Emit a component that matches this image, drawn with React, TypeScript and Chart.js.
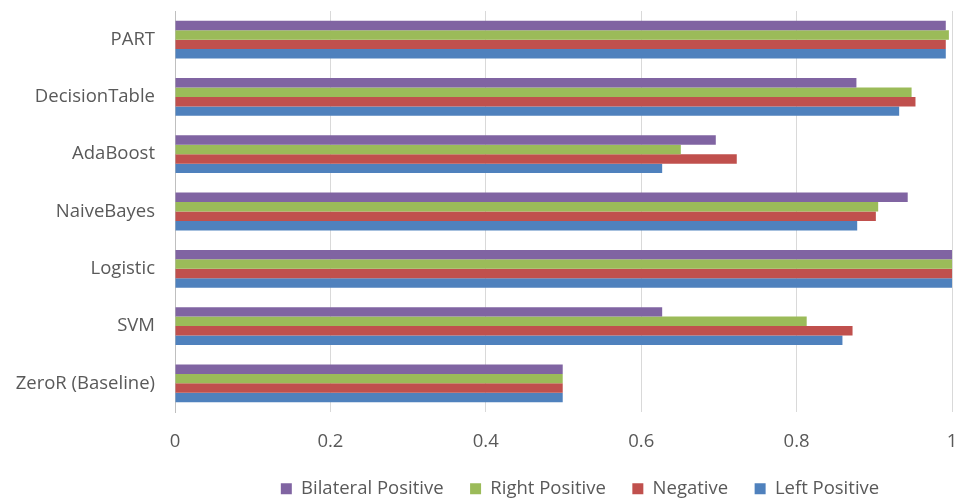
import { useEffect, useRef } from "react";
import { Chart, registerables } from "chart.js";

Chart.register(...registerables);

const categories = [
  "PART",
  "DecisionTable",
  "AdaBoost",
  "NaiveBayes",
  "Logistic",
  "SVM",
  "ZeroR (Baseline)",
];
const bilateralPositive = [0.992, 0.877, 0.696, 0.943, 1.0, 0.627, 0.499];
const rightPositive = [0.996, 0.948, 0.651, 0.905, 1.0, 0.813, 0.499];
const negative = [0.992, 0.953, 0.723, 0.902, 1.0, 0.872, 0.499];
const leftPositive = [0.992, 0.932, 0.627, 0.878, 1.0, 0.859, 0.499];
const seriesNames = ["Bilateral Positive", "Right Positive", "Negative", "Left Positive"];
const seriesColors = ["#8064A2", "#9BBB59", "#C0504D", "#4F81BD"];
const xMin = 0;
const xMax = 1;
const xStep = 0.2;

const FONT = "'Open Sans', 'Noto Sans', sans-serif";
const LEGEND_SHIFT = 104;

const legendShift = {
  id: "legendShift",
  afterLayout(chart: any) {
    const lg = chart.legend;
    if (lg) {
      lg.left += LEGEND_SHIFT;
      lg.right += LEGEND_SHIFT;
    }
  },
};

export default function App() {
  const canvasRef = useRef<HTMLCanvasElement | null>(null);

  useEffect(() => {
    if (!canvasRef.current) return;
    const values = [bilateralPositive, rightPositive, negative, leftPositive];
    const chart = new Chart(canvasRef.current, {
      type: "bar",
      data: {
        labels: categories,
        datasets: seriesNames.map((name, i) => ({
          label: name,
          data: values[i],
          backgroundColor: seriesColors[i],
          borderWidth: 0,
          categoryPercentage: 0.66,
          barPercentage: 1.0,
        })),
      },
      plugins: [legendShift],
      options: {
        indexAxis: "y",
        animation: false,
        responsive: true,
        maintainAspectRatio: false,
        layout: { padding: { top: 11, right: 14, left: 0, bottom: 0 } },
        plugins: {
          tooltip: { enabled: false },
          legend: {
            position: "bottom",
            labels: {
              boxWidth: 11,
              boxHeight: 11,
              padding: 26.5,
              color: "#595959",
              font: { family: FONT, size: 18.5 },
            },
          },
        },
        scales: {
          x: {
            min: xMin,
            max: xMax,
            ticks: {
              stepSize: xStep,
              color: "#595959",
              padding: 0,
              font: { family: FONT, size: 18.5 },
              callback: (v: any) => String(Number(Number(v).toFixed(1))),
            },
            grid: {
              color: "#d9d9d9",
              lineWidth: 1,
              drawTicks: true,
              tickLength: 18.5,
              tickColor: "rgba(0,0,0,0)",
            },
            border: { display: false },
            afterFit: (scale: any) => {
              scale.height = 41;
            },
          },
          y: {
            ticks: {
              color: "#595959",
              padding: 0,
              font: { family: FONT, size: 18.5, lineHeight: 1 },
            },
            grid: {
              display: true,
              color: "rgba(0,0,0,0)",
              drawOnChartArea: false,
              drawTicks: true,
              tickLength: 20,
            },
            border: { display: true, color: "#bfbfbf", width: 1 },
            afterFit: (scale: any) => {
              scale.width = 175;
            },
          },
        },
      },
    });
    return () => chart.destroy();
  }, []);

  return (
    <div
      style={{
        position: "fixed",
        left: 0,
        top: 0,
        width: 966,
        height: 503,
        overflow: "hidden",
        background: "#ffffff",
      }}
    >
      <div style={{ position: "relative", width: 966, height: 508 }}>
        <canvas ref={canvasRef} />
      </div>
    </div>
  );
}
